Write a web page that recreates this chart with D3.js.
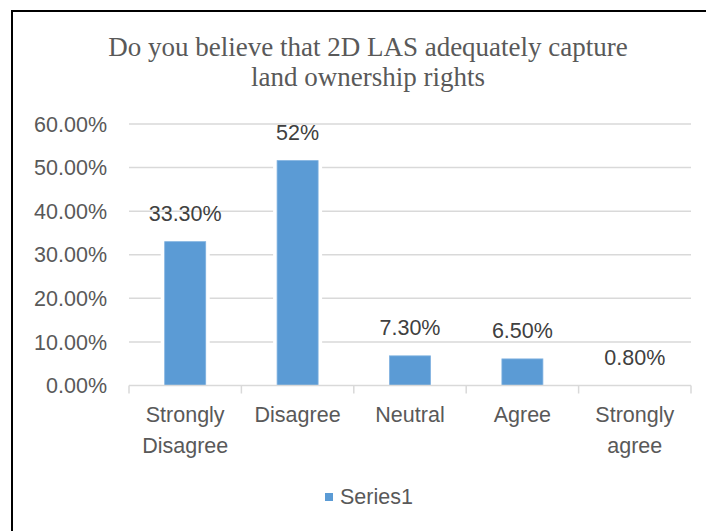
<!DOCTYPE html>
<html lang="en">
<head>
<meta charset="UTF-8">
<title>2D LAS survey</title>
<script src="https://d3js.org/d3.v7.min.js"></script>
<style>
  body { margin: 0; background: #fff; }
  svg { display: block; }
</style>
</head>
<body>
<svg width="706" height="531"></svg>
<script>
// chart data
var categories = ["Strongly Disagree", "Disagree", "Neutral", "Agree", "Strongly agree"];
var values = [0.33, 0.516, 0.068, 0.061, 0];
var valueLabels = ["33.30%", "52%", "7.30%", "6.50%", "0.80%"];
var yTicks = [0, 0.1, 0.2, 0.3, 0.4, 0.5, 0.6];
var seriesName = "Series1";

var width = 706, height = 531;
var svg = d3.select("svg");
var sans = "'Liberation Sans', Arial, sans-serif";

// outer chart border (right and bottom run off the picture)
svg.append("rect")
    .attr("x", 12).attr("y", 11)
    .attr("width", 740).attr("height", 560)
    .attr("fill", "#fff")
    .attr("stroke", "#000")
    .attr("stroke-width", 2);

// title
var title = svg.append("text")
    .attr("text-anchor", "middle")
    .attr("fill", "#595959")
    .style("font-family", "'Liberation Serif', 'Times New Roman', serif")
    .style("font-size", "27px");
title.append("tspan").attr("x", 368).attr("y", 56).text("Do you believe that 2D LAS adequately capture");
title.append("tspan").attr("x", 368).attr("y", 86).text("land ownership rights");

var x = d3.scaleBand().domain(categories).range([129, 691]);
var y = d3.scaleLinear().domain([0, 0.6]).range([385.5, 124]);

// gridlines
svg.append("g").selectAll("line")
    .data(yTicks.slice(1))
    .enter().append("line")
    .attr("x1", 129).attr("x2", 691)
    .attr("y1", function(d) { return y(d); })
    .attr("y2", function(d) { return y(d); })
    .attr("stroke", "#d9d9d9")
    .attr("stroke-width", 1.5);

// y tick labels
svg.append("g").selectAll("text")
    .data(yTicks)
    .enter().append("text")
    .attr("x", 107)
    .attr("y", function(d) { return y(d); })
    .attr("dy", "0.36em")
    .attr("text-anchor", "end")
    .attr("fill", "#595959")
    .style("font-family", sans)
    .style("font-size", "21.5px")
    .text(function(d) { return d3.format(".2%")(d); });

// bars (white halo breaks the gridlines like the original)
var barW = 41;
var bars = svg.append("g").selectAll("g")
    .data(values)
    .enter().append("g");
bars.append("rect")
    .attr("x", function(d, i) { return x(categories[i]) + x.bandwidth() / 2 - barW / 2 - 4; })
    .attr("y", function(d) { return y(d) - 2; })
    .attr("width", barW + 8)
    .attr("height", function(d) { return y(0) - y(d) + 2; })
    .attr("fill", "#fff");
bars.append("rect")
    .attr("x", function(d, i) { return x(categories[i]) + x.bandwidth() / 2 - barW / 2; })
    .attr("y", function(d) { return y(d); })
    .attr("width", barW)
    .attr("height", function(d) { return y(0) - y(d); })
    .attr("fill", "#5b9bd5")
    .attr("stroke", "#7fb1e0")
    .attr("stroke-width", 0.8);

// value labels
svg.append("g").selectAll("text")
    .data(values)
    .enter().append("text")
    .attr("x", function(d, i) { return x(categories[i]) + x.bandwidth() / 2; })
    .attr("y", function(d) { return y(d) - 21; })
    .attr("text-anchor", "middle")
    .attr("fill", "#404040")
    .style("font-family", sans)
    .style("font-size", "21.5px")
    .text(function(d, i) { return valueLabels[i]; });

// x axis line and tick marks
var xAxis = svg.append("g");
xAxis.append("line")
    .attr("x1", 129).attr("x2", 691)
    .attr("y1", y(0)).attr("y2", y(0))
    .attr("stroke", "#d9d9d9").attr("stroke-width", 1.5);
xAxis.selectAll("line.tick")
    .data(categories.concat([null]))
    .enter().append("line")
    .attr("class", "tick")
    .attr("x1", function(d, i) { return 129 + i * x.bandwidth(); })
    .attr("x2", function(d, i) { return 129 + i * x.bandwidth(); })
    .attr("y1", y(0)).attr("y2", y(0) + 8)
    .attr("stroke", "#d9d9d9").attr("stroke-width", 1.5);

// category labels, wrapped on spaces
var catText = xAxis.selectAll("text")
    .data(categories)
    .enter().append("text")
    .attr("text-anchor", "middle")
    .attr("fill", "#595959")
    .style("font-family", sans)
    .style("font-size", "21.5px");
catText.selectAll("tspan")
    .data(function(d) { return d.split(" ").map(function(w) { return { word: w, cat: d }; }); })
    .enter().append("tspan")
    .attr("x", function(d) { return x(d.cat) + x.bandwidth() / 2; })
    .attr("y", function(d, i) { return 422 + i * 31; })
    .text(function(d) { return d.word; });

// legend
var legend = svg.append("g");
legend.append("rect")
    .attr("x", 325).attr("y", 493)
    .attr("width", 8).attr("height", 8)
    .attr("fill", "#5b9bd5");
legend.append("text")
    .attr("x", 340).attr("y", 504)
    .attr("fill", "#595959")
    .style("font-family", sans)
    .style("font-size", "21.5px")
    .text(seriesName);
</script>
</body>
</html>
